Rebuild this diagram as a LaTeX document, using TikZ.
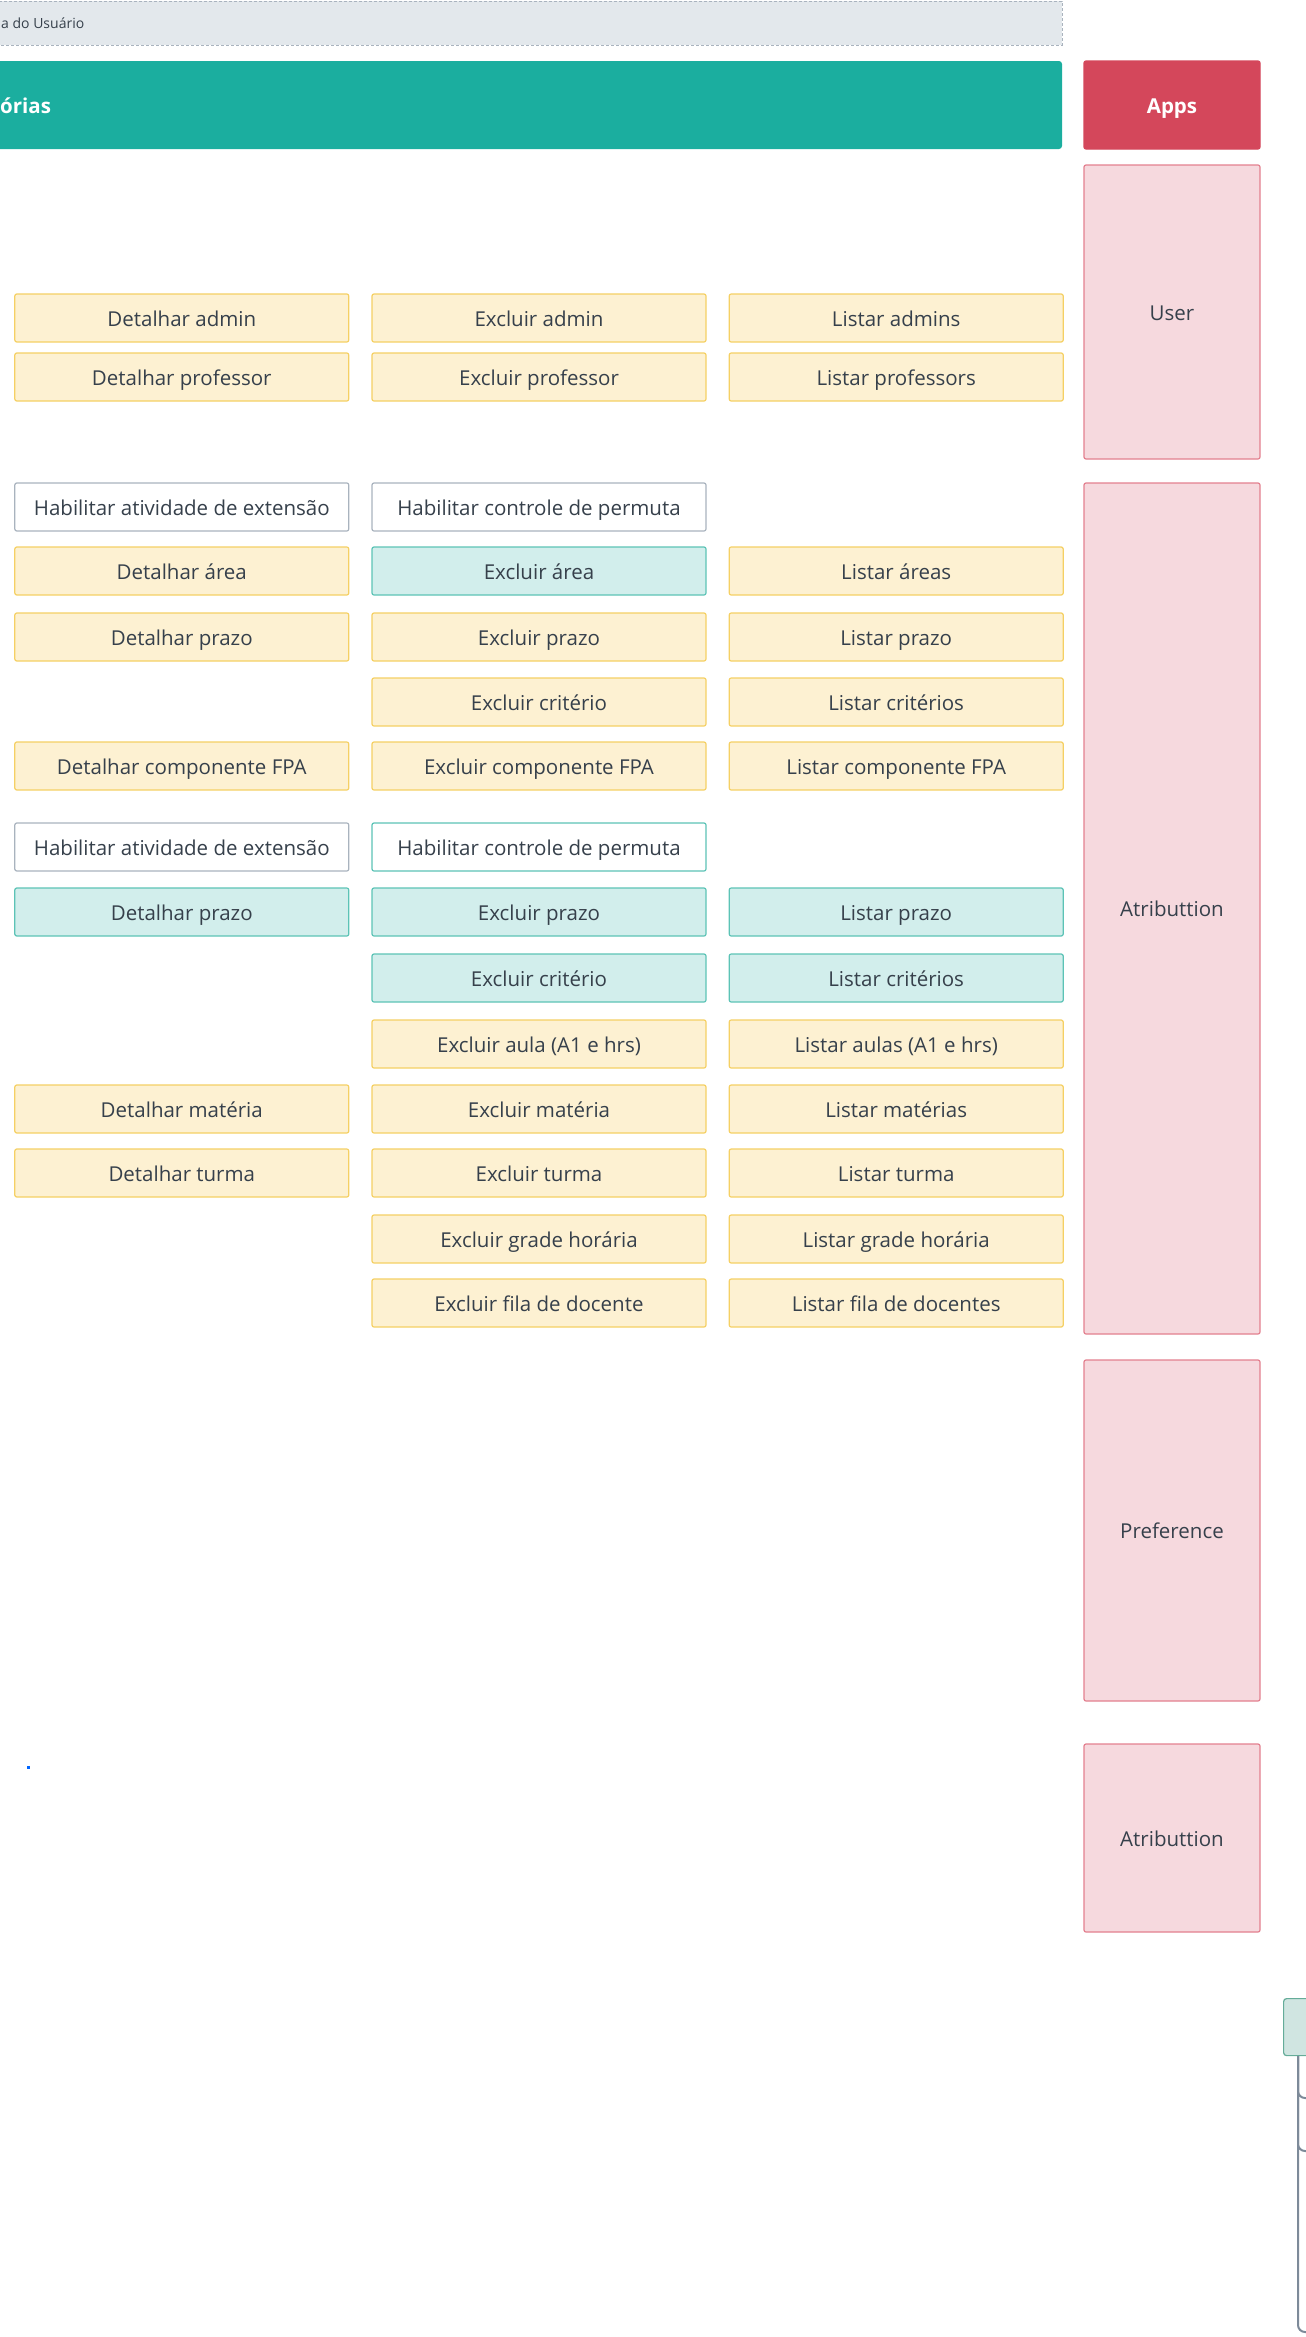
\documentclass[tikz,border=0pt]{standalone}
\usepackage{fontspec}
\setmainfont{Open Sans}
\usepackage{xcolor}
\usepackage{tikz}
\usetikzlibrary{positioning, calc}

\definecolor{ink}{HTML}{36404B}
\definecolor{yelFill}{HTML}{FDF1D2}
\definecolor{yelLine}{HTML}{F5D064}
\definecolor{teaFill}{HTML}{D2EEEC}
\definecolor{teaLine}{HTML}{5CC3B6}
\definecolor{grayLine}{HTML}{A9B3BE}
\definecolor{pinkFill}{HTML}{F6D9DE}
\definecolor{pinkLine}{HTML}{E3808F}
\definecolor{appRed}{HTML}{D4475B}
\definecolor{barTeal}{HTML}{1BAE9F}
\definecolor{topGray}{HTML}{E3E8EC}
\definecolor{wireGray}{HTML}{7D8A99}
\definecolor{leafFill}{HTML}{D0E5E1}
\definecolor{leafLine}{HTML}{65AC99}

\newcommand{\cardfont}{\fontsize{20.5}{24}\selectfont}

\begin{document}
\begin{tikzpicture}[
    x=1pt, y=-1pt,
    card/.style={rectangle, rounded corners=2pt, line width=1.2pt,
                 minimum width=334pt, minimum height=48pt,
                 text height=20pt, text depth=4pt,
                 font=\cardfont, text=ink, inner sep=0pt},
    yel/.style={card, fill=yelFill, draw=yelLine},
    tea/.style={card, fill=teaFill, draw=teaLine},
    wht/.style={card, fill=white, draw=grayLine},
    whtT/.style={card, fill=white, draw=teaLine},
    appbox/.style={rectangle, rounded corners=2pt, line width=1.2pt,
                   fill=pinkFill, draw=pinkLine, minimum width=176pt,
                   text height=20pt, text depth=4pt,
                   font=\cardfont, text=ink},
    wire/.style={draw=wireGray, line width=2pt, rounded corners=7pt}
]
\useasboundingbox (0,0) rectangle (1306,2337);

% Header strips
\draw[fill=topGray, draw=grayLine, dashed, dash pattern=on 3pt off 2pt, line width=1pt]
    (-10,1) rectangle (1062,45);
\node[anchor=west, inner sep=0pt, font=\fontsize{14}{16}\selectfont, text=ink] (areaTxt) at (1,23) {a do Usuário};
\fill[barTeal, rounded corners=3pt] (-10,61) rectangle (1062,149);
\node[anchor=west, inner sep=0pt, font=\cardfont\bfseries, text=white] (barTxt) at (0,106) {órias};

% Apps column (right)
\node[appbox, fill=appRed, draw=appRed, minimum height=88pt, text=white, font=\cardfont\bfseries] (apps) at (1172,105) {Apps};
\node[appbox, minimum height=294pt, below=14.8pt of apps] (user) {User};
\node[appbox, minimum height=851pt, below=22.8pt of user] (attr) {Atributtion};
\node[appbox, minimum height=341pt, below=24.8pt of attr] (pref) {Preference};
\node[appbox, minimum height=188pt, below=41.8pt of pref] (attrB) {Atributtion};

% User
\node[yel] (eAdmin) at (539,318) {Excluir admin};
\node[yel, left=22pt of eAdmin] (dAdmin) {Detalhar admin};
\node[yel, right=22pt of eAdmin] (lAdmin) {Listar admins};
\node[yel] (eProf) at (539,377) {Excluir professor};
\node[yel, left=22pt of eProf] (dProf) {Detalhar professor};
\node[yel, right=22pt of eProf] (lProf) {Listar professors};

% Atributtion - first block
\node[wht] (hPerm) at (539,507) {Habilitar controle de permuta};
\node[wht, left=22pt of hPerm] (hExt) {Habilitar atividade de extensão};
\node[tea] (eArea) at (539,571) {Excluir área};
\node[yel, left=22pt of eArea] (dArea) {Detalhar área};
\node[yel, right=22pt of eArea] (lArea) {Listar áreas};
\node[yel] (ePrazo) at (539,637) {Excluir prazo};
\node[yel, left=22pt of ePrazo] (dPrazo) {Detalhar prazo};
\node[yel, right=22pt of ePrazo] (lPrazo) {Listar prazo};
\node[yel] (eCrit) at (539,702) {Excluir critério};
\node[yel, right=22pt of eCrit] (lCrit) {Listar critérios};
\node[yel] (eFpa) at (539,766) {Excluir componente FPA};
\node[yel, left=22pt of eFpa] (dFpa) {Detalhar componente FPA};
\node[yel, right=22pt of eFpa] (lFpa) {Listar componente FPA};

% Atributtion - second block
\node[whtT] (hPermB) at (539,847) {Habilitar controle de permuta};
\node[wht, left=22pt of hPermB] (hExtB) {Habilitar atividade de extensão};
\node[tea] (ePrazoB) at (539,912) {Excluir prazo};
\node[tea, left=22pt of ePrazoB] (dPrazoB) {Detalhar prazo};
\node[tea, right=22pt of ePrazoB] (lPrazoB) {Listar prazo};
\node[tea] (eCritB) at (539,978) {Excluir critério};
\node[tea, right=22pt of eCritB] (lCritB) {Listar critérios};
\node[yel] (eAula) at (539,1044) {Excluir aula (A1 e hrs)};
\node[yel, right=22pt of eAula] (lAula) {Listar aulas (A1 e hrs)};
\node[yel] (eMat) at (539,1109) {Excluir matéria};
\node[yel, left=22pt of eMat] (dMat) {Detalhar matéria};
\node[yel, right=22pt of eMat] (lMat) {Listar matérias};
\node[yel] (eTurma) at (539,1173) {Excluir turma};
\node[yel, left=22pt of eTurma] (dTurma) {Detalhar turma};
\node[yel, right=22pt of eTurma] (lTurma) {Listar turma};
\node[yel] (eGrade) at (539,1239) {Excluir grade horária};
\node[yel, right=22pt of eGrade] (lGrade) {Listar grade horária};
\node[yel] (eFila) at (539,1303) {Excluir fila de docente};
\node[yel, right=22pt of eFila] (lFila) {Listar fila de docentes};

% stray marker
\fill[blue!60!cyan] (26.5,1765.5) rectangle (29.5,1768.5);

% Tree stub (bottom right)
\node[rectangle, rounded corners=3pt, line width=1.2pt, fill=leafFill, draw=leafLine,
      minimum width=60pt, minimum height=57pt, anchor=north west] (leaf) at (1283,1998) {};
\coordinate (kid1) at (1330,2098);
\coordinate (kid2) at (1330,2151);
\coordinate (kid3) at (1330,2332);
\draw[wire] ([xshift=15pt]leaf.south west) |- (kid1);
\draw[wire] ([xshift=15pt]leaf.south west) |- (kid2);
\draw[wire] ([xshift=15pt]leaf.south west) |- (kid3);

\end{tikzpicture}
\end{document}
